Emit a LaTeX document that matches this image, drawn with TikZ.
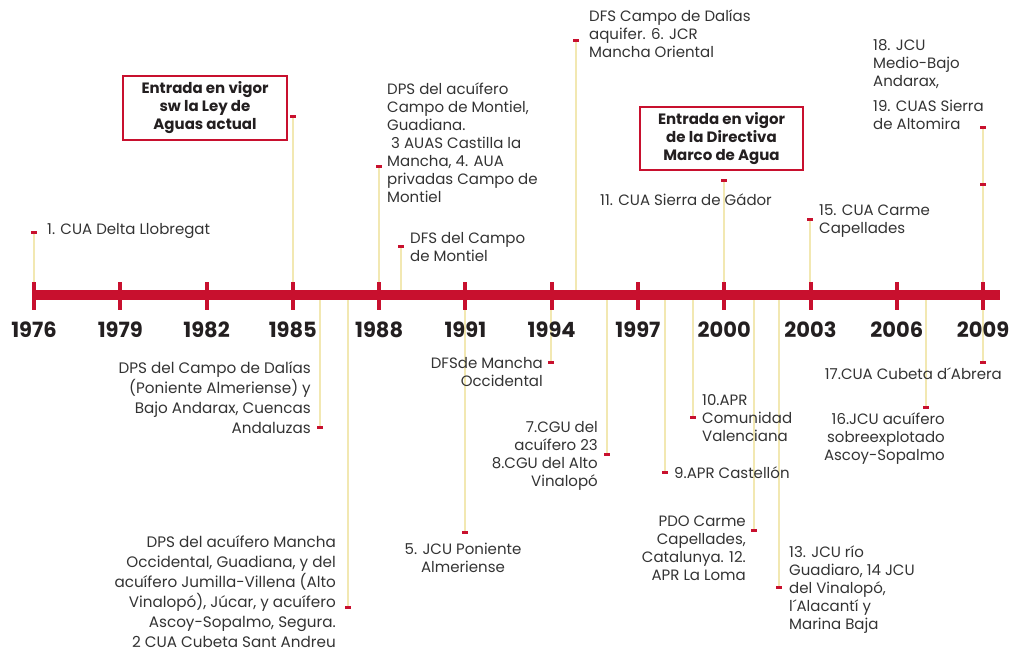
\documentclass[tikz,border=0pt]{standalone}
\usepackage{fontspec}
\setmainfont{Poppins}
\definecolor{barred}{RGB}{200,16,46}
\definecolor{stemyellow}{RGB}{242,232,178}
\definecolor{txtgray}{RGB}{51,51,51}
\definecolor{yearblack}{RGB}{35,31,32}

\begin{document}
\begin{tikzpicture}[x=1pt, y=-1pt,
    lbl/.style={inner sep=0, text=txtgray, font=\fontsize{15}{18}\selectfont},
    widelbl/.style={lbl, font=\fontsize{15.2}{20}\selectfont},
    stem/.style={draw=stemyellow, line width=2.6pt},
    endmark/.style={fill=barred, minimum width=6pt, minimum height=3pt, inner sep=0},
    yr/.style={inner sep=0, text=yearblack, font=\bfseries\fontsize{21}{21}\selectfont},
    keybox/.style={draw=barred, line width=2pt, fill=white, align=center,
        inner sep=0, minimum width=164pt, minimum height=64pt, text=yearblack,
        font=\bfseries\fontsize{15}{18}\selectfont}]
    \useasboundingbox (0,0) rectangle (1011,653);

    % stem ends on the bar and at the marks
    \coordinate (b1) at (34,295);   \coordinate (k1) at (34,232);
    \coordinate (b2) at (293,295);  \coordinate (k2) at (293,116);
    \coordinate (b3) at (379,295);  \coordinate (k3) at (379,166);
    \coordinate (b4) at (401,295);  \coordinate (k4) at (401,246);
    \coordinate (b5) at (576,295);  \coordinate (k5) at (576,40);
    \coordinate (b6) at (724,295);  \coordinate (k6) at (724,180);
    \coordinate (b7) at (810,295);  \coordinate (k7) at (810,219);
    \coordinate (b8) at (983,295);  \coordinate (k8) at (983,127);
    \coordinate (k8b) at (983,184);
    \coordinate (c1) at (320,295);  \coordinate (l1) at (320,427);
    \coordinate (c2) at (348,295);  \coordinate (l2) at (348,607);
    \coordinate (c3) at (465,295);  \coordinate (l3) at (465,532);
    \coordinate (c4) at (551,295);  \coordinate (l4) at (551,362);
    \coordinate (c5) at (607,295);  \coordinate (l5) at (607,454);
    \coordinate (c6) at (665,295);  \coordinate (l6) at (665,472);
    \coordinate (c7) at (693,295);  \coordinate (l7) at (693,417);
    \coordinate (c8) at (754,295);  \coordinate (l8) at (754,530);
    \coordinate (c9) at (779,295);  \coordinate (l9) at (779,587);
    \coordinate (c10) at (926,295); \coordinate (l10) at (926,407);
    \coordinate (c11) at (983,295); \coordinate (l11) at (983,362);

    \foreach \i in {1,...,8}
        \draw[stem] (b\i) -- (k\i);
    \foreach \i in {1,...,11}
        \draw[stem] (c\i) -- (l\i);

    % time axis
    \fill[barred] (33,290) rectangle (1000,300);
    \foreach \yy in {1976,1979,...,2009} {
        \fill[barred] ({32+(\yy-1976)*28.76},282) rectangle ++(4,28);
        \node[yr] (y\yy) at ({34+(\yy-1976)*28.76},330) {\yy};
    }

    \foreach \i in {1,...,8}
        \node[endmark] (m\i) at (k\i) {};
    \node[endmark] (m8b) at (k8b) {};
    \foreach \i in {1,...,11}
        \node[endmark] (n\i) at (l\i) {};

    % above the axis
    \node[lbl, anchor=west] (t1) at (47,231) {1. CUA Delta Llobregat};
    \node[keybox] (ley) at (205,108) {Entrada en vigor\\sw la Ley de\\Aguas actual};
    \node[lbl, align=left, anchor=north west] (t3) at (387,83)
        {DPS del acuífero\\Campo de Montiel,\\Guadiana.\\~3 AUAS Castilla la\\Mancha, 4. AUA\\privadas Campo de\\Montiel};
    \node[lbl, align=left, anchor=north west] (t4) at (410,232) {DFS del Campo\\de Montiel};
    \node[lbl, align=left, anchor=north west] (t5) at (589,10) 
        {DFS Campo de Dalías\\aquifer. 6. JCR\\Mancha Oriental};
    \node[keybox, minimum width=163pt, minimum height=63pt] (dma) at (721.5,138.5)
        {Entrada en vigor\\de la Directiva\\Marco de Agua};
    \node[lbl, anchor=west] (t6) at (600,200) {11. CUA Sierra de Gádor};
    \node[lbl, align=left, anchor=north west] (t7) at (819,204) {15. CUA Carme\\Capellades};
    \node[lbl, align=left, anchor=north west] (t8) at (873,39) {18. JCU\\Medio-Bajo\\Andarax,};
    \node[lbl, align=left, anchor=north west] (t8b) at (873,100) {19. CUAS Sierra\\de Altomira};

    % below the axis
    \node[widelbl, align=right, anchor=north east] (u1) at (311,361)
        {DPS del Campo de Dalías\\(Poniente Almeriense) y\\Bajo Andarax, Cuencas\\Andaluzas};
    \node[widelbl, align=right, anchor=north east] (u2) at (336,535)
        {DPS del acuífero Mancha\\Occidental, Guadiana, y del\\acuífero Jumilla-Villena (Alto\\Vinalopó), Júcar, y acuífero\\Ascoy-Sopalmo, Segura.\\2 CUA Cubeta Sant Andreu};
    \node[lbl, align=center, anchor=north] (u3) at (463,543) {5. JCU Poniente\\Almeriense};
    \node[lbl, align=right, anchor=north east] (u4) at (543,357) {DFSde Mancha\\Occidental};
    \node[lbl, align=right, anchor=north east] (u5) at (598,421)
        {7.CGU del\\acuífero 23\\8.CGU del Alto\\Vinalopó};
    \node[lbl, anchor=west] (u6) at (674,473) {9.APR Castellón};
    \node[lbl, align=left, anchor=north west] (u7) at (702,394) {10.APR\\Comunidad\\Valenciana};
    \node[lbl, align=right, anchor=north east] (u8) at (746,516)
        {PDO Carme\\Capellades,\\Catalunya. 12.\\APR La Loma};
    \node[lbl, align=left, anchor=north west] (u9) at (789,546)
        {13. JCU río\\Guadiaro, 14 JCU\\del Vinalopó,\\l´Alacantí y\\Marina Baja};
    \node[lbl, align=right, anchor=north east] (u10) at (945,413)
        {16.JCU acuífero\\sobreexplotado\\Ascoy-Sopalmo};
    \node[lbl, anchor=east] (u11) at (1002,374) {17.CUA Cubeta d´Abrera};
\end{tikzpicture}
\end{document}
